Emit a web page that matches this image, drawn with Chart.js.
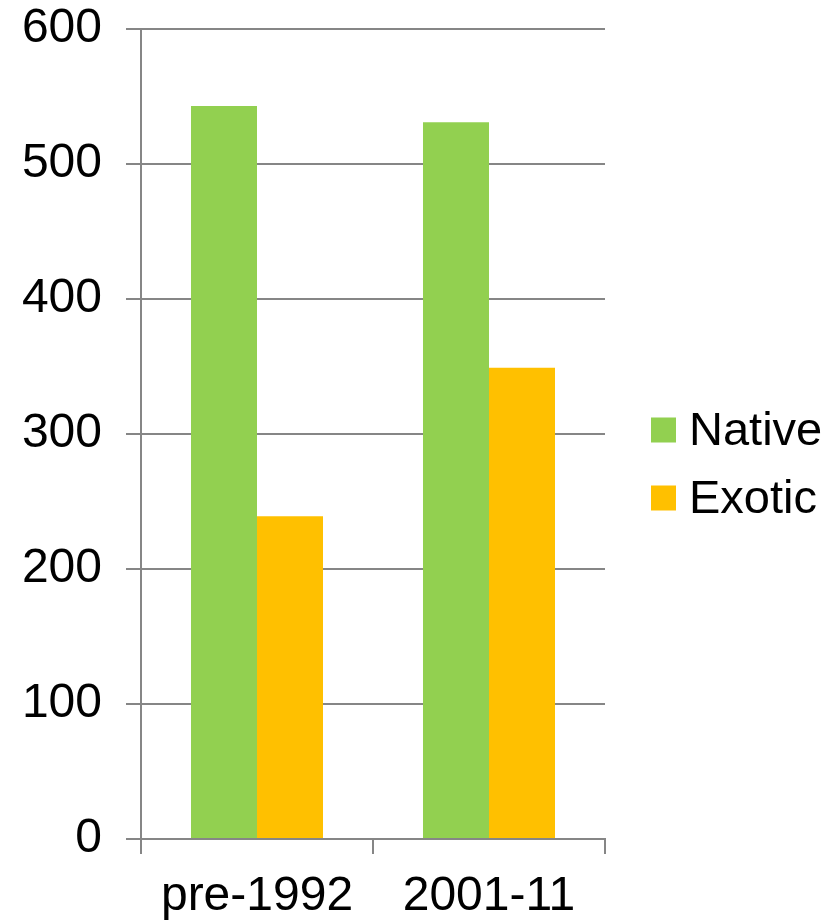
<!DOCTYPE html>
<html>
<head>
<meta charset="utf-8">
<script src="https://cdn.jsdelivr.net/npm/chart.js@4/dist/chart.umd.min.js"></script>
<style>
html,body{margin:0;padding:0;background:#fff;}
#wrap{width:836px;height:920px;position:relative;}
</style>
</head>
<body>
<div id="wrap"><canvas id="c" width="836" height="920"></canvas></div>
<script>
const categories = ['pre-1992', '2001-11'];
const seriesNames = ['Native', 'Exotic'];
const nativeValues = [543, 531];
const exoticValues = [239, 349];
const yTicks = [0, 100, 200, 300, 400, 500, 600];
const seriesColors = ['#92D050', '#FFC000'];

const FONT = "'Liberation Sans', Arial, sans-serif";
const GRID = '#868686';

const legendPlugin = {
  id: 'sideLegend',
  afterDraw(chart) {
    const ctx = chart.ctx;
    const ca = chart.chartArea;
    ctx.save();
    ctx.font = '47px ' + FONT;
    ctx.textBaseline = 'middle';
    ctx.textAlign = 'left';
    chart.data.datasets.forEach((ds, i) => {
      const cy = 430 + i * 68;
      const bx = ca.right + 46;
      ctx.fillStyle = ds.backgroundColor;
      ctx.fillRect(bx, cy - 12.5, 25, 25);
      ctx.fillStyle = '#000';
      ctx.fillText(ds.label, bx + 38, cy + 2);
    });
    ctx.restore();
  }
};

new Chart(document.getElementById('c'), {
  type: 'bar',
  data: {
    labels: categories,
    datasets: [
      { label: seriesNames[0], data: nativeValues, backgroundColor: seriesColors[0], borderWidth: 0 },
      { label: seriesNames[1], data: exoticValues, backgroundColor: seriesColors[1], borderWidth: 0 }
    ]
  },
  options: {
    responsive: false,
    animation: false,
    devicePixelRatio: 1,
    layout: { padding: { top: 29, right: 231, bottom: 0, left: 0 } },
    plugins: { legend: { display: false }, tooltip: { enabled: false } },
    datasets: { bar: { categoryPercentage: 0.569, barPercentage: 1.0 } },
    scales: {
      x: {
        grid: { display: true, drawOnChartArea: false, drawTicks: true, tickLength: 15, color: GRID, lineWidth: 2, offset: true },
        border: { display: true, color: GRID, width: 2 },
        ticks: { color: '#000', font: { family: FONT, size: 48 }, padding: 14, maxRotation: 0 },
        afterFit(scale) { scale.height = 81; scale.paddingLeft = 0; scale.paddingRight = 0; }
      },
      y: {
        min: 0, max: 600,
        afterBuildTicks(scale) { scale.ticks = yTicks.map(v => ({ value: v })); },
        grid: { color: GRID, lineWidth: 2, drawTicks: true, tickLength: 15 },
        border: { display: true, color: GRID, width: 2 },
        ticks: { color: '#000', font: { family: FONT, size: 48 }, padding: 24 },
        afterFit(scale) { scale.width = 141; scale.paddingTop = 0; scale.paddingBottom = 0; }
      }
    }
  },
  plugins: [legendPlugin]
});
</script>
</body>
</html>
